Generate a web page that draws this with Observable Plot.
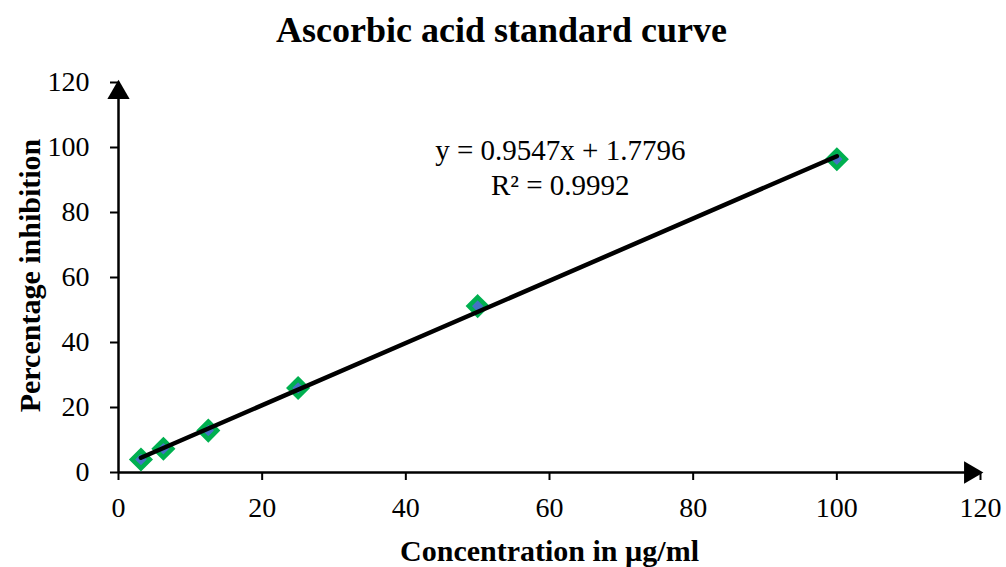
<!DOCTYPE html>
<html>
<head>
<meta charset="utf-8">
<script src="https://cdn.jsdelivr.net/npm/d3@7"></script>
<script src="https://cdn.jsdelivr.net/npm/@observablehq/plot@0.6"></script>
<style>
  html, body { margin: 0; padding: 0; background: #ffffff; }
  #chart svg { display: block; }
</style>
</head>
<body>
<div id="chart"></div>
<script>
// ---- Data ----
const concentration = [3.125, 6.25, 12.5, 25, 50, 100];
const inhibition = [4.0, 7.3, 12.9, 26.0, 51.2, 96.4];
const xTicks = [0, 20, 40, 60, 80, 100, 120];
const yTicks = [0, 20, 40, 60, 80, 100, 120];
const xDomain = [0, 120];
const yDomain = [0, 120];
const titleText = "Ascorbic acid standard curve";
const xLabel = "Concentration in µg/ml";
const yLabel = "Percentage inhibition";
const equationLines = ["y = 0.9547x + 1.7796", "R² = 0.9992"];
const equationAnchor = {x: 61.5, y: 94.3};

const points = concentration.map((c, i) => ({x: c, y: inhibition[i]}));

const chart = Plot.plot({
  width: 1006,
  height: 567,
  marginLeft: 118,
  marginRight: 26,
  marginTop: 82,
  marginBottom: 95,
  style: {fontFamily: "'Liberation Serif', 'Times New Roman', serif", background: "#ffffff", color: "#000000"},
  x: {domain: xDomain, label: null},
  y: {domain: yDomain, label: null},
  marks: [
    Plot.axisX({ticks: xTicks, tickSize: 8, tickPadding: 17, fontSize: 28, strokeWidth: 2, label: null}),
    Plot.axisY({ticks: yTicks, tickSize: 8, tickPadding: 21, fontSize: 28, strokeWidth: 2, label: null}),
    Plot.ruleY([yDomain[0]], {stroke: "#000", strokeWidth: 2.5}),
    Plot.ruleX([xDomain[0]], {stroke: "#000", strokeWidth: 2.5}),
    // axis arrowheads
    Plot.dot([{x: xDomain[1], y: yDomain[0]}], {x: "x", y: "y", symbol: "triangle", r: 8.27, rotate: 90, fill: "#000", stroke: null, dx: -10}),
    Plot.dot([{x: xDomain[0], y: yDomain[1]}], {x: "x", y: "y", symbol: "triangle", r: 8.27, rotate: 0, fill: "#000", stroke: null, dy: 10}),
    // data markers
    Plot.dot(points, {x: "x", y: "y", symbol: "diamond2", r: 8, fill: "#4472C4", stroke: "#00B050", strokeWidth: 4.5}),
    // linear trend line
    Plot.linearRegressionY(points, {x: "x", y: "y", ci: 0, stroke: "#000", strokeWidth: 4.5}),
    // equation annotation
    Plot.text([equationLines.join("\n")], {x: () => equationAnchor.x, y: () => equationAnchor.y, text: d => d, fontSize: 29, lineHeight: 1.2, textAnchor: "middle", lineAnchor: "middle", fill: "#000"}),
    // title
    Plot.text([titleText], {frameAnchor: "top", dx: -48, dy: -52, fontSize: 36, fontWeight: "bold", fill: "#000", textAnchor: "middle", lineAnchor: "middle"}),
    // x label
    Plot.text([xLabel], {frameAnchor: "bottom", dy: 79, fontSize: 30, fontWeight: "bold", fill: "#000", textAnchor: "middle", lineAnchor: "middle"}),
    // y label
    Plot.text([yLabel], {frameAnchor: "left", dx: -88, dy: -2, rotate: -90, fontSize: 30, fontWeight: "bold", fill: "#000", textAnchor: "middle", lineAnchor: "middle"})
  ]
});
document.getElementById("chart").appendChild(chart);
</script>
</body>
</html>
